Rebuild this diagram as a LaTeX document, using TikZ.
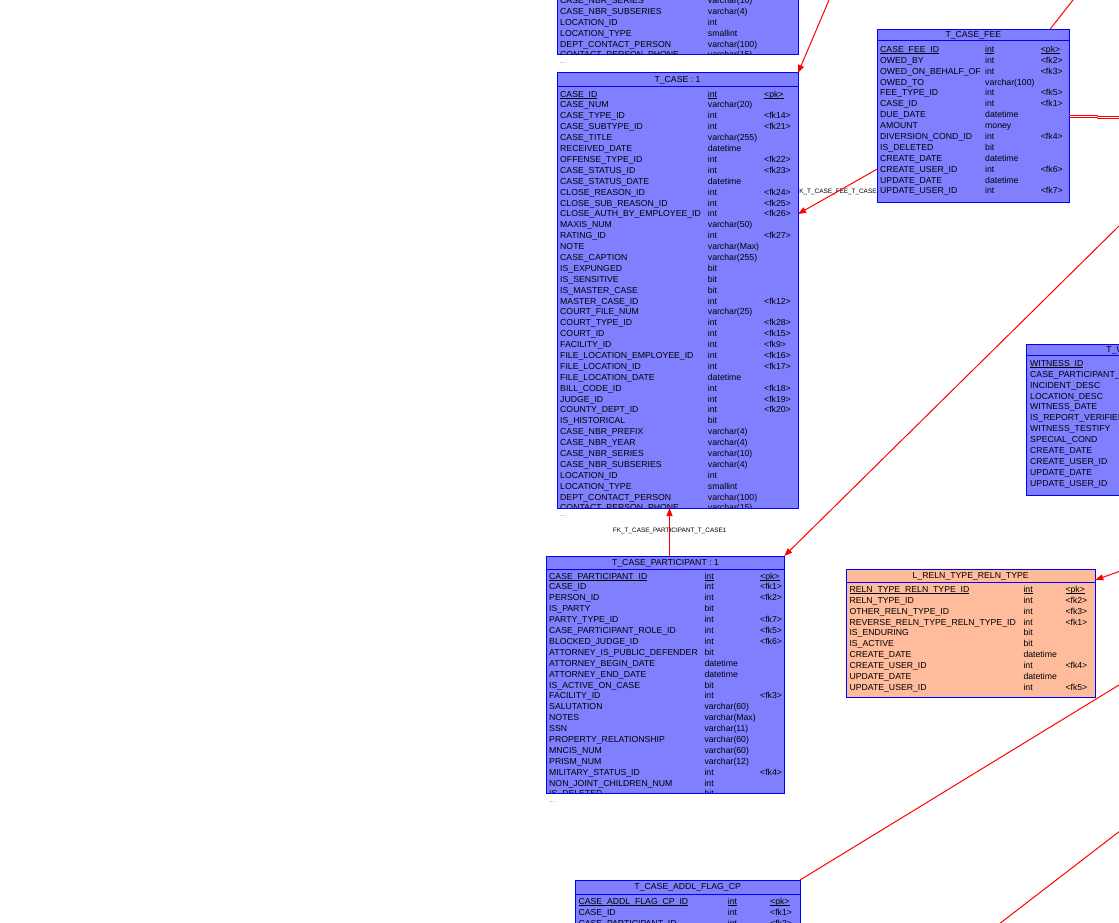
\documentclass[tikz,border=0pt]{standalone}
\usepackage{fontspec}
\setmainfont{Liberation Sans}
\usetikzlibrary{arrows.meta,calc}

\definecolor{entblue}{RGB}{128,128,255}
\definecolor{entsalmon}{RGB}{255,188,156}
\definecolor{edgeblue}{RGB}{0,0,255}
\definecolor{fkred}{RGB}{255,0,0}
\definecolor{moredots}{RGB}{110,125,200}

% primary-key underline sitting just below the baseline
\newsavebox\ulbox
\newcommand\keyul[1]{\sbox\ulbox{#1}\rlap{\rule[-1.3pt]{\wd\ulbox}{0.6pt}}\usebox\ulbox}

\tikzset{
  tblbox/.style={draw=edgeblue, line width=1pt, inner sep=0pt, outer sep=0pt, anchor=north west},
  hdrline/.style={draw=edgeblue, line width=1pt},
  rowtext/.style={inner sep=0pt, text height=6.2pt, text depth=0pt, anchor=west,
                  font=\fontsize{8.7}{10}\selectfont},
  hdrtext/.style={inner sep=0pt, text height=6.2pt, text depth=0pt,
                  font=\fontsize{8.7}{10}\selectfont},
  fklabel/.style={inner sep=0pt, font=\fontsize{6.4}{7}\selectfont},
  fk/.style={draw=fkred, line width=1pt},
  fkarrow/.style={fk, -{Triangle[length=8pt,width=6pt]}},
  more/.style={inner sep=0pt, text height=1pt, text depth=0pt, text=moredots,
               font=\fontsize{7.5}{7.5}\selectfont},
}

% entity box: name, fill, x1, y1, x2, y2, header separator y, title
\newcommand\enttable[8]{%
  \node[tblbox, fill=#2, minimum width={(#5-#3)*1pt}, minimum height={(#6-#4)*1pt}] (#1) at (#3,#4) {};
  \draw[hdrline] (#3,#7) -- (#5,#7);
  \node[hdrtext] (#1-title) at ({(#3+#5)/2},{(#4+#7)/2-0.5}) {#8};
}

% attribute rows: table, name x, type x, key x, first row y, first index, list
\newcommand\entrows[7]{%
  \begin{scope}
    \clip ([shift={(0.6pt,-0.6pt)}]#1.north west) rectangle ([shift={(-0.6pt,0.6pt)}]#1.south east);
    \foreach \fname/\ftype/\fkey [count=\i from #6] in {#7} {
      \pgfmathsetmacro\rowy{#5+(\i-#6)*10.89}
      \node[rowtext] (#1-n\i) at (#2,\rowy) {\fname};
      \node[rowtext] (#1-t\i) at (#3,\rowy) {\ftype};
      \node[rowtext] (#1-k\i) at (#4,\rowy) {\fkey};
    }
  \end{scope}
}

\begin{document}
\begin{tikzpicture}[x=1pt,y=-1pt]
\useasboundingbox (0,0) rectangle (1119,923);
\clip (0,0) rectangle (1119,923);

% loose connector ends
\coordinate (e1) at (829,0);
\coordinate (e2) at (1073,0);
\coordinate (e3a) at (1119,116.5);
\coordinate (e3b) at (1119,118.5);
\coordinate (e4) at (1119,226);
\coordinate (e5) at (1119,571.5);
\coordinate (e6) at (1119,685);
\coordinate (e7) at (1119,831.7);
\coordinate (e8) at (990,931);

% relationship labels
\node[fklabel] (lblfee) at (836,191.5) {FK\_T\_CASE\_FEE\_T\_CASE};
\node[fklabel] (lblpart) at (669.7,530.7) {FK\_T\_CASE\_PARTICIPANT\_T\_CASE1};

% ---------- entities ----------
\node[tblbox, fill=entblue, minimum width=241pt, minimum height=75pt] (tcaseup) at (557,-20) {};
\enttable{tcase}{entblue}{557}{73}{798}{508}{87}{T\_CASE : 1}
\enttable{tfee}{entblue}{877.3}{29.3}{1069.3}{202.3}{40.7}{T\_CASE\_FEE}
\enttable{twit}{entblue}{1026.7}{344}{1236}{495}{355.5}{T\_WITNESS}
\enttable{tpart}{entblue}{546.7}{556}{784.3}{793.3}{569}{T\_CASE\_PARTICIPANT : 1}
\enttable{lreln}{entsalmon}{846}{569.3}{1095.3}{697.7}{582.7}{L\_RELN\_TYPE\_RELN\_TYPE}
\enttable{taddl}{entblue}{575.3}{880}{800}{940}{894.3}{T\_CASE\_ADDL\_FLAG\_CP}

% ---------- connectors ----------
\draw[fkarrow] (e1) -- (tcase.north east);
\draw[fkarrow] (tfee.west |- 0,169) -- (tcase.east |- 0,214);
\draw[fk] (e2) -- (tfee.north -| 1050,0);
\draw[fk, line width=0.9pt] (tfee.east |- 0,115.5) -- (1097,115.5) -- (1098,116.5) -- (e3a);
\draw[fk, line width=0.9pt] (tfee.east |- 0,117.5) -- (1097,117.5) -- (1098,118.5) -- (e3b);
\draw[fkarrow, line width=1.2pt] (tpart.north -| 669.5,0) -- (tcase.south -| 669.5,0);
\draw[fkarrow] (e4) -- (tpart.north east);
\draw[fkarrow] (e5) -- (lreln.east |- 0,580);
\draw[fk] (e6) -- (taddl.north east);
\draw[fk] (e7) -- (e8);

% ---------- attributes ----------
\entrows{tcaseup}{560}{707.7}{764}{0.4}{33}{%
CASE\_NBR\_SERIES/varchar(10)/{},
CASE\_NBR\_SUBSERIES/varchar(4)/{},
LOCATION\_ID/int/{},
LOCATION\_TYPE/smallint/{},
DEPT\_CONTACT\_PERSON/varchar(100)/{},
CONTACT\_PERSON\_PHONE/varchar(15)/{}}

\entrows{tcase}{560}{707.7}{764}{94}{0}{%
\keyul{CASE\_ID}/\keyul{int}/\keyul{<pk>},
CASE\_NUM/varchar(20)/{},
CASE\_TYPE\_ID/int/<fk14>,
CASE\_SUBTYPE\_ID/int/<fk21>,
CASE\_TITLE/varchar(255)/{},
RECEIVED\_DATE/datetime/{},
OFFENSE\_TYPE\_ID/int/<fk22>,
CASE\_STATUS\_ID/int/<fk23>,
CASE\_STATUS\_DATE/datetime/{},
CLOSE\_REASON\_ID/int/<fk24>,
CLOSE\_SUB\_REASON\_ID/int/<fk25>,
CLOSE\_AUTH\_BY\_EMPLOYEE\_ID/int/<fk26>,
MAXIS\_NUM/varchar(50)/{},
RATING\_ID/int/<fk27>,
NOTE/varchar(Max)/{},
CASE\_CAPTION/varchar(255)/{},
IS\_EXPUNGED/bit/{},
IS\_SENSITIVE/bit/{},
IS\_MASTER\_CASE/bit/{},
MASTER\_CASE\_ID/int/<fk12>,
COURT\_FILE\_NUM/varchar(25)/{},
COURT\_TYPE\_ID/int/<fk28>,
COURT\_ID/int/<fk15>,
FACILITY\_ID/int/<fk9>,
FILE\_LOCATION\_EMPLOYEE\_ID/int/<fk16>,
FILE\_LOCATION\_ID/int/<fk17>,
FILE\_LOCATION\_DATE/datetime/{},
BILL\_CODE\_ID/int/<fk18>,
JUDGE\_ID/int/<fk19>,
COUNTY\_DEPT\_ID/int/<fk20>,
IS\_HISTORICAL/bit/{},
CASE\_NBR\_PREFIX/varchar(4)/{},
CASE\_NBR\_YEAR/varchar(4)/{},
CASE\_NBR\_SERIES/varchar(10)/{},
CASE\_NBR\_SUBSERIES/varchar(4)/{},
LOCATION\_ID/int/{},
LOCATION\_TYPE/smallint/{},
DEPT\_CONTACT\_PERSON/varchar(100)/{},
CONTACT\_PERSON\_PHONE/varchar(15)/{}}

\entrows{tfee}{880}{985}{1040.7}{49.3}{0}{%
\keyul{CASE\_FEE\_ID}/\keyul{int}/\keyul{<pk>},
OWED\_BY/int/<fk2>,
OWED\_ON\_BEHALF\_OF/int/<fk3>,
OWED\_TO/varchar(100)/{},
FEE\_TYPE\_ID/int/<fk5>,
CASE\_ID/int/<fk1>,
DUE\_DATE/datetime/{},
AMOUNT/money/{},
DIVERSION\_COND\_ID/int/<fk4>,
IS\_DELETED/bit/{},
CREATE\_DATE/datetime/{},
CREATE\_USER\_ID/int/<fk6>,
UPDATE\_DATE/datetime/{},
UPDATE\_USER\_ID/int/<fk7>}

\entrows{twit}{1030}{1180}{1215}{363.3}{0}{%
\keyul{WITNESS\_ID}/{}/{},
CASE\_PARTICIPANT\_ID/{}/{},
INCIDENT\_DESC/{}/{},
LOCATION\_DESC/{}/{},
WITNESS\_DATE/{}/{},
IS\_REPORT\_VERIFIED/{}/{},
WITNESS\_TESTIFY/{}/{},
SPECIAL\_COND/{}/{},
CREATE\_DATE/{}/{},
CREATE\_USER\_ID/{}/{},
UPDATE\_DATE/{}/{},
UPDATE\_USER\_ID/{}/{}}

\entrows{tpart}{549}{704.3}{760}{576}{0}{%
\keyul{CASE\_PARTICIPANT\_ID}/\keyul{int}/\keyul{<pk>},
CASE\_ID/int/<fk1>,
PERSON\_ID/int/<fk2>,
IS\_PARTY/bit/{},
PARTY\_TYPE\_ID/int/<fk7>,
CASE\_PARTICIPANT\_ROLE\_ID/int/<fk5>,
BLOCKED\_JUDGE\_ID/int/<fk6>,
ATTORNEY\_IS\_PUBLIC\_DEFENDER/bit/{},
ATTORNEY\_BEGIN\_DATE/datetime/{},
ATTORNEY\_END\_DATE/datetime/{},
IS\_ACTIVE\_ON\_CASE/bit/{},
FACILITY\_ID/int/<fk3>,
SALUTATION/varchar(60)/{},
NOTES/varchar(Max)/{},
SSN/varchar(11)/{},
PROPERTY\_RELATIONSHIP/varchar(60)/{},
MNCIS\_NUM/varchar(60)/{},
PRISM\_NUM/varchar(12)/{},
MILITARY\_STATUS\_ID/int/<fk4>,
NON\_JOINT\_CHILDREN\_NUM/int/{},
IS\_DELETED/bit/{}}

\entrows{lreln}{849.3}{1023.3}{1065.3}{589.3}{0}{%
\keyul{RELN\_TYPE\_RELN\_TYPE\_ID}/\keyul{int}/\keyul{<pk>},
RELN\_TYPE\_ID/int/<fk2>,
OTHER\_RELN\_TYPE\_ID/int/<fk3>,
REVERSE\_RELN\_TYPE\_RELN\_TYPE\_ID/int/<fk1>,
IS\_ENDURING/bit/{},
IS\_ACTIVE/bit/{},
CREATE\_DATE/datetime/{},
CREATE\_USER\_ID/int/<fk4>,
UPDATE\_DATE/datetime/{},
UPDATE\_USER\_ID/int/<fk5>}

\entrows{taddl}{578.3}{727.7}{770}{901.3}{0}{%
\keyul{CASE\_ADDL\_FLAG\_CP\_ID}/\keyul{int}/\keyul{<pk>},
CASE\_ID/int/<fk1>,
CASE\_PARTICIPANT\_ID/int/<fk2>}

% truncated-list markers
\node[more] (tcaseup-more) at (563,63) {...};
\node[more] (tcase-more) at (563,516) {...};
\node[more] (tpart-more) at (552,802) {...};

\end{tikzpicture}
\end{document}
